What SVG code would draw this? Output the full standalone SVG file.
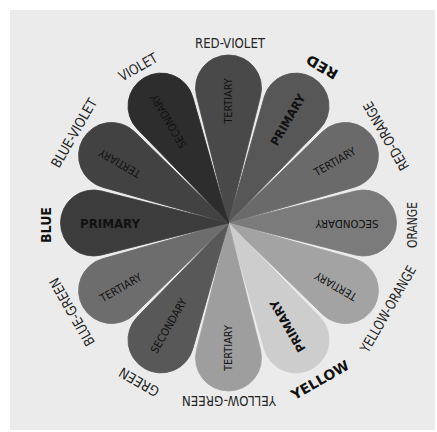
<svg xmlns="http://www.w3.org/2000/svg" xmlns:xlink="http://www.w3.org/1999/xlink" width="437" height="432" viewBox="0 0 437 432">
<style>
.outer{font-family:"DejaVu Sans Condensed","DejaVu Sans","Liberation Sans",sans-serif;font-size:14px;fill:#262626;text-anchor:middle;dominant-baseline:central}
.bold{font-weight:bold;fill:#111}
.inner{font-family:"DejaVu Sans Condensed","DejaVu Sans","Liberation Sans",sans-serif;font-size:11px;fill:#111;text-anchor:middle;dominant-baseline:central}
.prim{font-weight:bold;font-size:12px}
.pet{stroke-width:0.8;stroke-linejoin:round}
</style>
<defs>
<path id="petal" d="M0,0 L126.93,-32 A33,33 0 1 1 126.93,32 Z"/>
</defs>
<rect x="0" y="0" width="437" height="432" fill="#ffffff"/>
<rect x="10" y="10" width="425" height="420" fill="#ebebeb"/>
<g id="petals">
<g id="red-violet">
<use href="#petal" class="pet" transform="translate(228.5,223) rotate(-90)" fill="#494949" stroke="#494949"/>
<text class="inner" transform="translate(228.5,101) rotate(-90)" textLength="45" lengthAdjust="spacingAndGlyphs">TERTIARY</text>
<text class="outer" transform="translate(230,43) rotate(0)" textLength="70" lengthAdjust="spacingAndGlyphs">RED-VIOLET</text>
</g>
<g id="red">
<use href="#petal" class="pet" transform="translate(228.5,223) rotate(-60)" fill="#575757" stroke="#575757"/>
<text class="inner prim" transform="translate(288,120) rotate(-60)" textLength="57" lengthAdjust="spacingAndGlyphs">PRIMARY</text>
<text class="outer bold" transform="translate(322,67) rotate(210)" textLength="34" lengthAdjust="spacingAndGlyphs">RED</text>
</g>
<g id="red-orange">
<use href="#petal" class="pet" transform="translate(228.5,223) rotate(-30)" fill="#6a6a6a" stroke="#6a6a6a"/>
<text class="inner" transform="translate(335,162) rotate(-30)" textLength="46" lengthAdjust="spacingAndGlyphs">TERTIARY</text>
<text class="outer" transform="translate(386,136) rotate(240)" textLength="77" lengthAdjust="spacingAndGlyphs">RED-ORANGE</text>
</g>
<g id="orange">
<use href="#petal" class="pet" transform="translate(228.5,223) rotate(0)" fill="#7b7b7b" stroke="#7b7b7b"/>
<text class="inner" transform="translate(347,223) rotate(180)" textLength="63" lengthAdjust="spacingAndGlyphs">SECONDARY</text>
<text class="outer" transform="translate(412,225) rotate(-90)" textLength="46" lengthAdjust="spacingAndGlyphs">ORANGE</text>
</g>
<g id="yellow-orange">
<use href="#petal" class="pet" transform="translate(228.5,223) rotate(30)" fill="#a3a3a3" stroke="#a3a3a3"/>
<text class="inner" transform="translate(336,286) rotate(210)" textLength="46" lengthAdjust="spacingAndGlyphs">TERTIARY</text>
<text class="outer" transform="translate(388,309) rotate(-60)" textLength="97" lengthAdjust="spacingAndGlyphs">YELLOW-ORANGE</text>
</g>
<g id="yellow">
<use href="#petal" class="pet" transform="translate(228.5,223) rotate(60)" fill="#cdcdcd" stroke="#cdcdcd"/>
<text class="inner prim" transform="translate(288,326) rotate(240)" textLength="58" lengthAdjust="spacingAndGlyphs">PRIMARY</text>
<text class="outer bold" transform="translate(320,380) rotate(-30)" textLength="64" lengthAdjust="spacingAndGlyphs">YELLOW</text>
</g>
<g id="yellow-green">
<use href="#petal" class="pet" transform="translate(228.5,223) rotate(90)" fill="#9e9e9e" stroke="#9e9e9e"/>
<text class="inner" transform="translate(228.5,348) rotate(270)" textLength="46" lengthAdjust="spacingAndGlyphs">TERTIARY</text>
<text class="outer" transform="translate(229,401) rotate(180)" textLength="94" lengthAdjust="spacingAndGlyphs">YELLOW-GREEN</text>
</g>
<g id="green">
<use href="#petal" class="pet" transform="translate(228.5,223) rotate(120)" fill="#585858" stroke="#585858"/>
<text class="inner" transform="translate(169,326) rotate(300)" textLength="61" lengthAdjust="spacingAndGlyphs">SECONDARY</text>
<text class="outer" transform="translate(139,382) rotate(210)" textLength="44" lengthAdjust="spacingAndGlyphs">GREEN</text>
</g>
<g id="blue-green">
<use href="#petal" class="pet" transform="translate(228.5,223) rotate(150)" fill="#6d6d6d" stroke="#6d6d6d"/>
<text class="inner" transform="translate(121,288) rotate(330)" textLength="46" lengthAdjust="spacingAndGlyphs">TERTIARY</text>
<text class="outer" transform="translate(72,312) rotate(240)" textLength="76" lengthAdjust="spacingAndGlyphs">BLUE-GREEN</text>
</g>
<g id="blue">
<use href="#petal" class="pet" transform="translate(228.5,223) rotate(180)" fill="#3c3c3c" stroke="#3c3c3c"/>
<text class="inner prim" transform="translate(110,224) rotate(0)" textLength="60" lengthAdjust="spacingAndGlyphs">PRIMARY</text>
<text class="outer bold" transform="translate(46,225) rotate(-90)" textLength="36" lengthAdjust="spacingAndGlyphs">BLUE</text>
</g>
<g id="blue-violet">
<use href="#petal" class="pet" transform="translate(228.5,223) rotate(210)" fill="#424242" stroke="#424242"/>
<text class="inner" transform="translate(120,163) rotate(210)" textLength="46" lengthAdjust="spacingAndGlyphs">TERTIARY</text>
<text class="outer" transform="translate(74,133) rotate(-60)" textLength="77" lengthAdjust="spacingAndGlyphs">BLUE-VIOLET</text>
</g>
<g id="violet">
<use href="#petal" class="pet" transform="translate(228.5,223) rotate(240)" fill="#2d2d2d" stroke="#2d2d2d"/>
<text class="inner" transform="translate(169,121) rotate(240)" textLength="60" lengthAdjust="spacingAndGlyphs">SECONDARY</text>
<text class="outer" transform="translate(138,67) rotate(-30)" textLength="42" lengthAdjust="spacingAndGlyphs">VIOLET</text>
</g>
</g>
<g id="connectors"/>
</svg>
